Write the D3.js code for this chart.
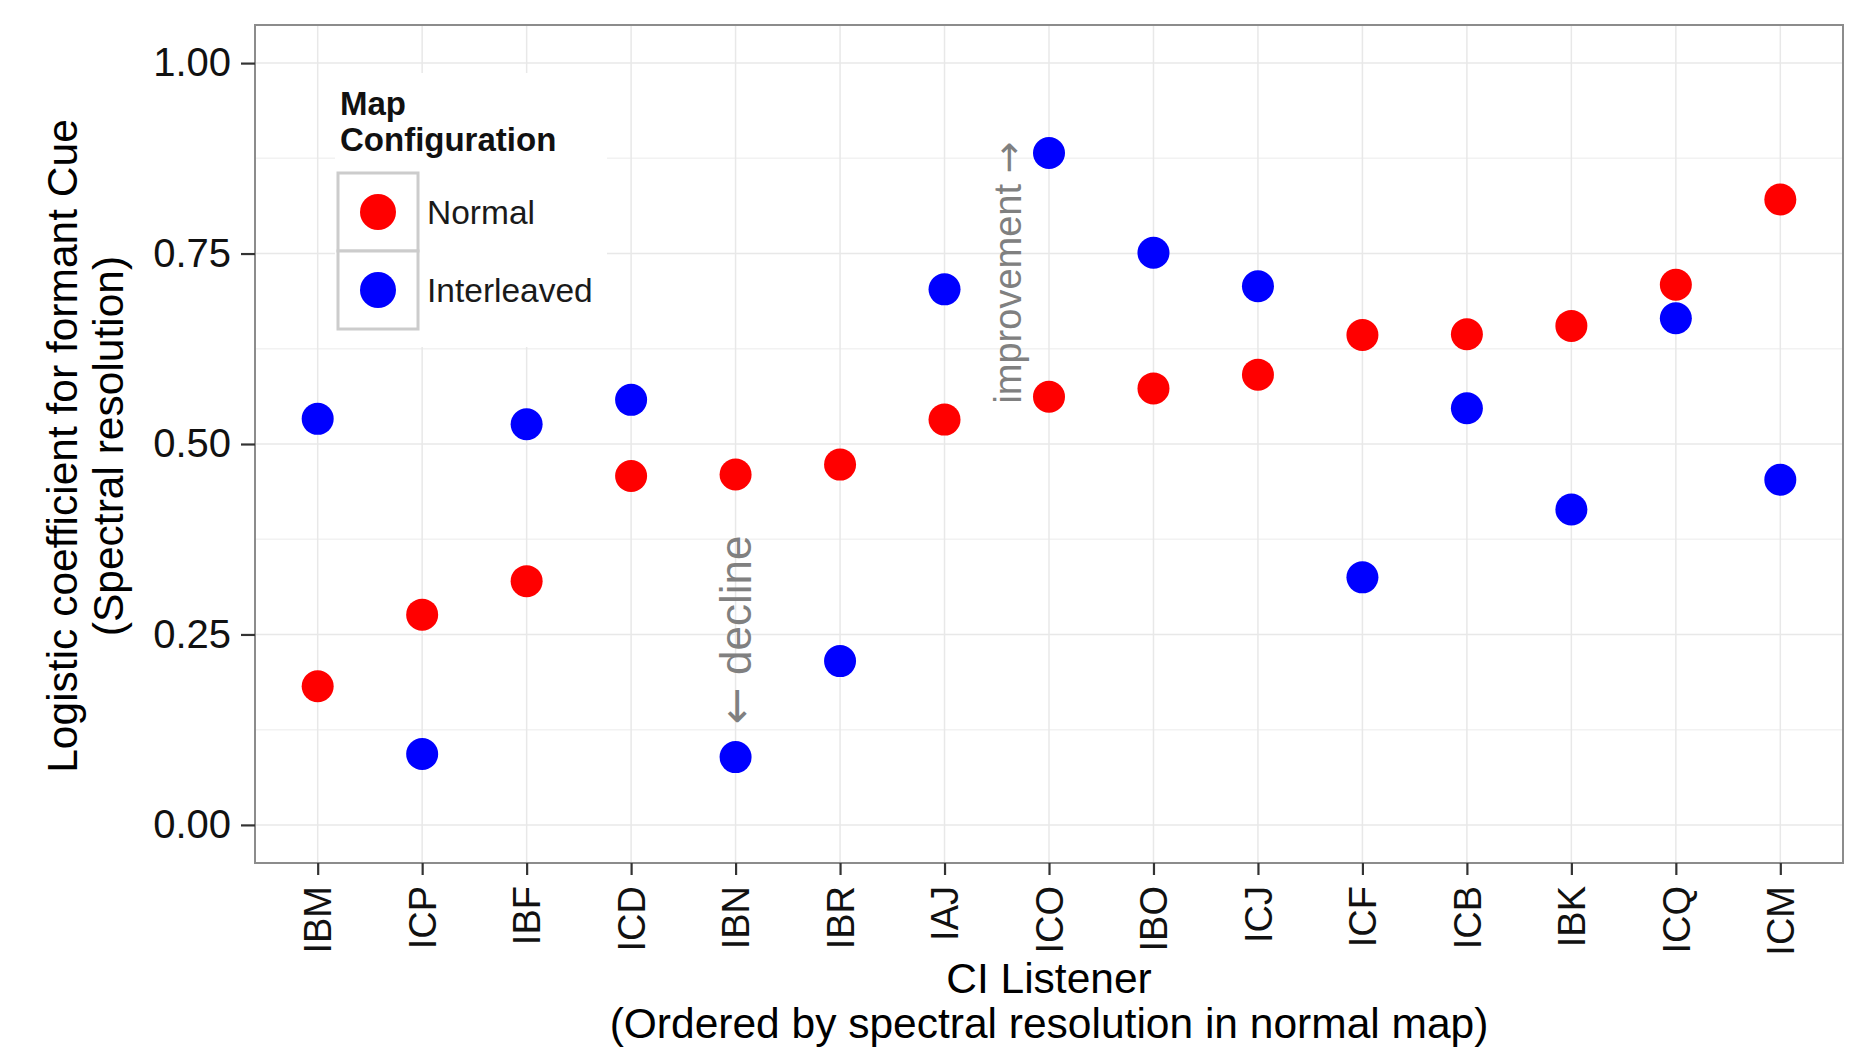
<!DOCTYPE html>
<html>
<head>
<meta charset="utf-8">
<script src="https://cdn.jsdelivr.net/npm/d3@7"></script>
<style>
  html, body { margin: 0; padding: 0; background: #fff; }
  svg { display: block; }
  text { font-family: "Liberation Sans", Arial, Helvetica, sans-serif; }
</style>
</head>
<body>
<svg id="chart" width="1867" height="1064"></svg>
<script>
// ---- data ----
const listeners = ["IBM","ICP","IBF","ICD","IBN","IBR","IAJ","ICO","IBO","ICJ","ICF","ICB","IBK","ICQ","ICM"];
const normalValues =      [0.182,0.276,0.320,0.458,0.460,0.473,0.532,0.562,0.573,0.591,0.643,0.644,0.655,0.709,0.821];
const interleavedValues = [0.533,0.093,0.526,0.558,0.089,0.215,0.703,0.882,0.751,0.707,0.325,0.547,0.414,0.665,0.453];
const seriesNames = ["Normal","Interleaved"];
const seriesColors = ["#ff0000","#0000ff"];
const yTicks = [0, 0.25, 0.5, 0.75, 1];
const yMinorTicks = [0.125, 0.375, 0.625, 0.875];
const annotations = [
  { arrow: "\u2190", word: "decline", arrowFirst: true, pos: 4, value: 0.256, size: 44 },
  { arrow: "\u2192", word: "improvement", arrowFirst: false, pos: 6.6, value: 0.725, size: 38 }
];

// ---- layout ----
const svg = d3.select("#chart");
const panel = { left: 255, top: 25, right: 1843, bottom: 863 };

const x = d3.scalePoint().domain(listeners).range([panel.left, panel.right]).padding(0.6);
const xPos = d3.scaleLinear().domain([0, 1]).range([x(listeners[0]), x(listeners[0]) + x.step()]);
const y = d3.scaleLinear().domain([-0.05, 1.05]).range([panel.bottom, panel.top]);

// panel background
svg.append("rect")
  .attr("x", panel.left).attr("y", panel.top)
  .attr("width", panel.right - panel.left).attr("height", panel.bottom - panel.top)
  .attr("fill", "#ffffff");

// minor grid
svg.append("g").selectAll("line").data(yMinorTicks).join("line")
  .attr("x1", panel.left).attr("x2", panel.right)
  .attr("y1", d => y(d)).attr("y2", d => y(d))
  .attr("stroke", "#f2f2f2").attr("stroke-width", 1.5);

// major grid
svg.append("g").selectAll("line").data(yTicks).join("line")
  .attr("x1", panel.left).attr("x2", panel.right)
  .attr("y1", d => y(d)).attr("y2", d => y(d))
  .attr("stroke", "#e8e8e8").attr("stroke-width", 1.5);
svg.append("g").selectAll("line").data(listeners).join("line")
  .attr("x1", d => x(d)).attr("x2", d => x(d))
  .attr("y1", panel.top).attr("y2", panel.bottom)
  .attr("stroke", "#e8e8e8").attr("stroke-width", 1.5);

// annotations
const ann = svg.append("g").selectAll("text").data(annotations).join("text")
  .attr("transform", d => `translate(${xPos(d.pos)},${y(d.value)}) rotate(-90)`)
  .attr("text-anchor", "middle")
  .attr("dy", "0.35em")
  .attr("font-size", d => d.size)
  .attr("fill", "#808080");
ann.each(function(d) {
  const t = d3.select(this);
  const addArrow = () => t.append("tspan").style("font-family", '"DejaVu Sans", sans-serif').text(d.arrow);
  if (d.arrowFirst) { addArrow(); t.append("tspan").text(" " + d.word); }
  else { t.append("tspan").text(d.word + " "); addArrow(); }
});

// points
const points = [];
listeners.forEach((l, i) => {
  points.push({ name: l, value: normalValues[i], s: 0 });
  points.push({ name: l, value: interleavedValues[i], s: 1 });
});
svg.append("g").selectAll("circle").data(points).join("circle")
  .attr("cx", d => x(d.name))
  .attr("cy", d => y(d.value))
  .attr("r", 16)
  .attr("fill", d => seriesColors[d.s]);

// panel border
svg.append("rect")
  .attr("x", panel.left).attr("y", panel.top)
  .attr("width", panel.right - panel.left).attr("height", panel.bottom - panel.top)
  .attr("fill", "none").attr("stroke", "#8c8c8c").attr("stroke-width", 2);

// y axis
const yAxis = svg.append("g")
  .attr("transform", `translate(${panel.left},0)`)
  .call(d3.axisLeft(y).tickValues(yTicks).tickFormat(d3.format(".2f")).tickSize(14).tickPadding(10));
yAxis.select(".domain").remove();
yAxis.selectAll(".tick line").attr("stroke", "#333").attr("stroke-width", 2.2);
yAxis.selectAll(".tick text")
  .attr("font-size", 40).attr("fill", "#111")
  .style("font-family", '"Liberation Sans", Arial, sans-serif');

// x axis
const xAxis = svg.append("g")
  .attr("transform", `translate(0,${panel.bottom})`)
  .call(d3.axisBottom(x).tickSize(12).tickPadding(12));
xAxis.select(".domain").remove();
xAxis.selectAll(".tick line").attr("stroke", "#333").attr("stroke-width", 2.2);
xAxis.selectAll(".tick text")
  .attr("font-size", 38).attr("fill", "#111")
  .style("font-family", '"Liberation Sans", Arial, sans-serif')
  .attr("transform", "rotate(-90)")
  .attr("text-anchor", "end")
  .attr("x", -23).attr("y", 0).attr("dy", "0.35em");

// axis titles
const xTitle = svg.append("text")
  .attr("text-anchor", "middle")
  .attr("font-size", 42.5)
  .attr("fill", "#000");
xTitle.append("tspan").attr("x", (panel.left + panel.right) / 2).attr("y", 993).text("CI Listener");
xTitle.append("tspan").attr("x", (panel.left + panel.right) / 2).attr("y", 1038).text("(Ordered by spectral resolution in normal map)");

const yTitle = svg.append("g")
  .attr("transform", `translate(0,${(panel.top + panel.bottom) / 2 + 2}) rotate(-90)`);
yTitle.append("text").attr("x", 0).attr("y", 77).attr("text-anchor", "middle")
  .attr("font-size", 42.5).attr("fill", "#000").text("Logistic coefficient for formant Cue");
yTitle.append("text").attr("x", 0).attr("y", 123).attr("text-anchor", "middle")
  .attr("font-size", 42.5).attr("fill", "#000").text("(Spectral resolution)");

// legend
const legend = svg.append("g");
legend.append("rect").attr("x", 335).attr("y", 73).attr("width", 272).attr("height", 274).attr("fill", "#fff");
legend.append("text").attr("x", 340).attr("y", 115).attr("font-size", 33).attr("font-weight", "bold").attr("fill", "#111").text("Map");
legend.append("text").attr("x", 340).attr("y", 151).attr("font-size", 33).attr("font-weight", "bold").attr("fill", "#111").text("Configuration");
const keyH = 78, keyW = 80, keyX = 338, keyY = 173;
const items = legend.selectAll("g.item").data(seriesNames).join("g").attr("class", "item")
  .attr("transform", (d, i) => `translate(${keyX},${keyY + i * keyH})`);
items.append("rect").attr("width", keyW).attr("height", keyH)
  .attr("fill", "#fff").attr("stroke", "#cccccc").attr("stroke-width", 3);
items.append("circle").attr("cx", 40).attr("cy", keyH / 2).attr("r", 18)
  .attr("fill", (d, i) => seriesColors[i]);
items.append("text").attr("x", 89).attr("y", keyH / 2).attr("dy", "0.35em")
  .attr("font-size", 33.5).attr("fill", "#1a1a1a").text(d => d);
</script>
</body>
</html>
